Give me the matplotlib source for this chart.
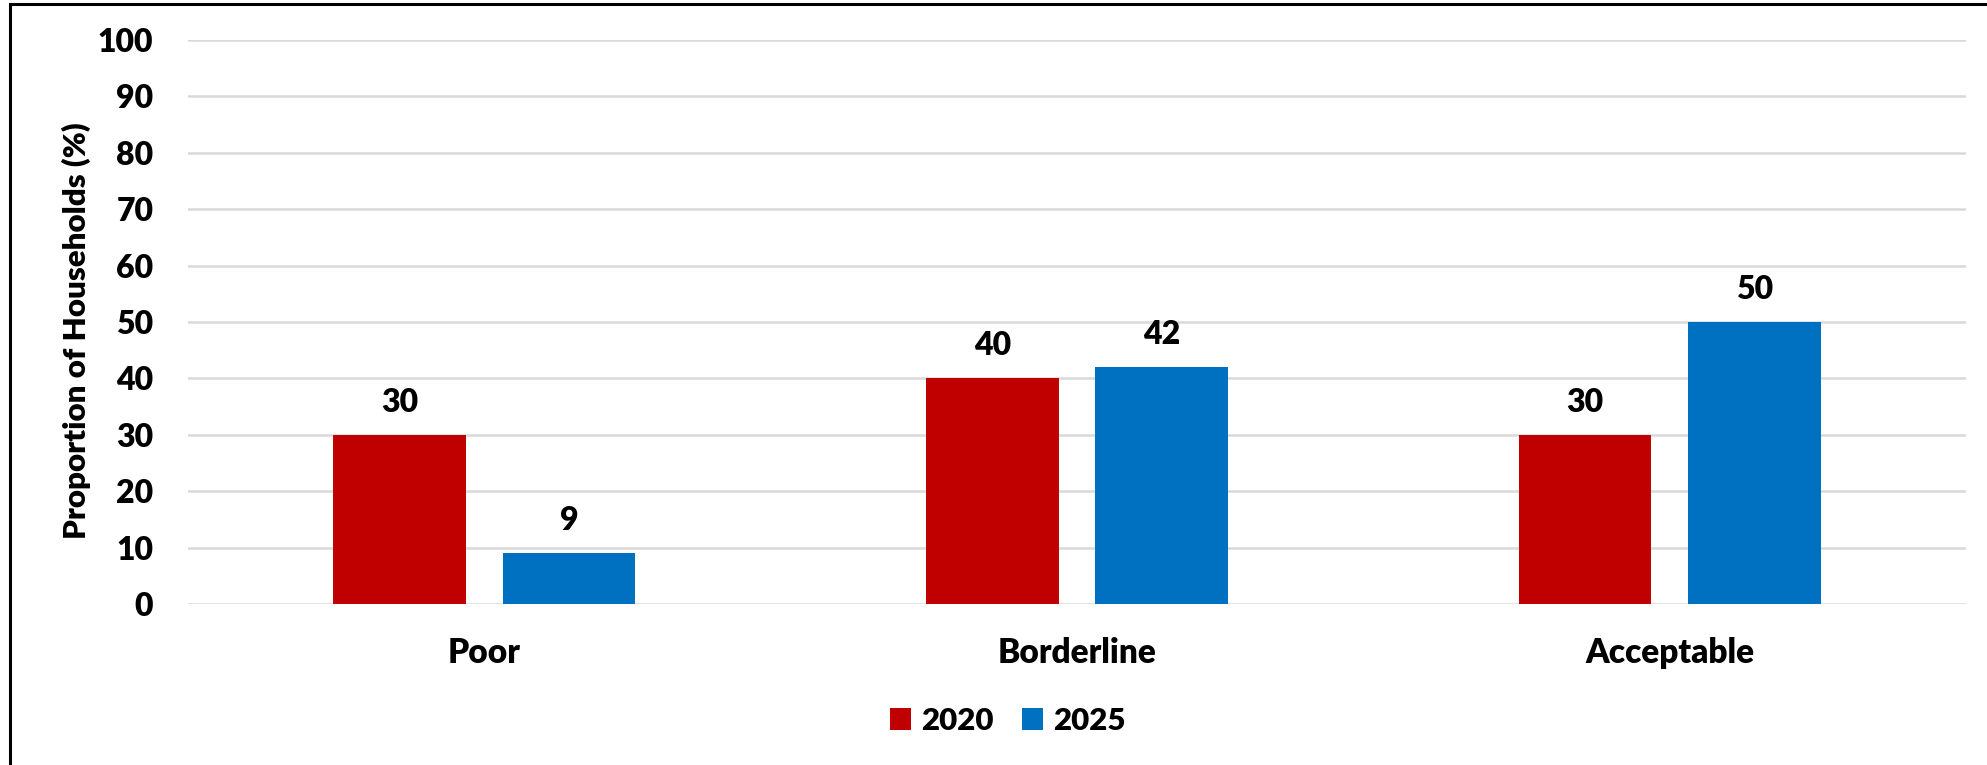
import matplotlib
matplotlib.use("Agg")
import matplotlib.pyplot as plt
import numpy as np
from matplotlib.patches import Rectangle

# Food consumption score groups, share of households by survey year
categories = ["Poor", "Borderline", "Acceptable"]
years = ["2020", "2025"]
values_2020 = [30, 40, 30]
values_2025 = [9, 42, 50]
y_ticks = [0, 10, 20, 30, 40, 50, 60, 70, 80, 90, 100]

colors = {"2020": "#C00000", "2025": "#0070C0"}

WEIGHT = 800
plt.rcParams["font.family"] = ["Lato", "DejaVu Sans"]
plt.rcParams["font.weight"] = WEIGHT

W, H, DPI = 1987, 765, 100
fig = plt.figure(figsize=(W / DPI, H / DPI), dpi=DPI)
ax = fig.add_axes([188 / W, (H - 604) / H, (1966 - 188) / W, (604 - 40) / H])

x = np.arange(len(categories))
width = 0.224
offset = 0.143

series = [("2020", values_2020, -offset), ("2025", values_2025, offset)]
for year, vals, off in series:
    bars = ax.bar(x + off, vals, width, color=colors[year], label=year, zorder=3)
    for rect, v in zip(bars, vals):
        ax.annotate(f"{v}", (rect.get_x() + rect.get_width() / 2, v),
                    xytext=(0, 23.5), textcoords="offset points",
                    ha="center", va="center", fontsize=23, fontweight=WEIGHT)

ax.set_xlim(-0.5, len(categories) - 0.5)
ax.set_ylim(0, 100)
ax.set_yticks(y_ticks)
ax.set_yticklabels([str(t) for t in y_ticks], fontsize=23, fontweight=WEIGHT)
ax.set_xticks(x)
ax.set_xticklabels(categories, fontsize=24, fontweight=WEIGHT)
ax.tick_params(axis="y", length=0, pad=25)
ax.tick_params(axis="x", length=0, pad=24)
ax.grid(axis="y", color="#D9D9D9", linewidth=1.8, zorder=0)
for s in ax.spines.values():
    s.set_visible(False)

ax.text(-0.063, 0.484, "Proportion of Households (%)", transform=ax.transAxes,
        rotation=90, ha="center", va="center", fontsize=22.5, fontweight=WEIGHT)

fig.legend(loc="center", bbox_to_anchor=(1008 / W, 44 / H), ncol=2,
           frameon=False, handlelength=0.68, handleheight=0.68,
           handletextpad=0.32, columnspacing=0.9,
           prop={"size": 22.5, "weight": WEIGHT})

# outer frame line around the chart
fig.add_artist(Rectangle((10 / W, -0.05), 1.1, (H - 4) / H + 0.05,
                         transform=fig.transFigure, fill=False,
                         edgecolor="black", linewidth=2.2))

fig.savefig("out.png", dpi=DPI, facecolor="white")
